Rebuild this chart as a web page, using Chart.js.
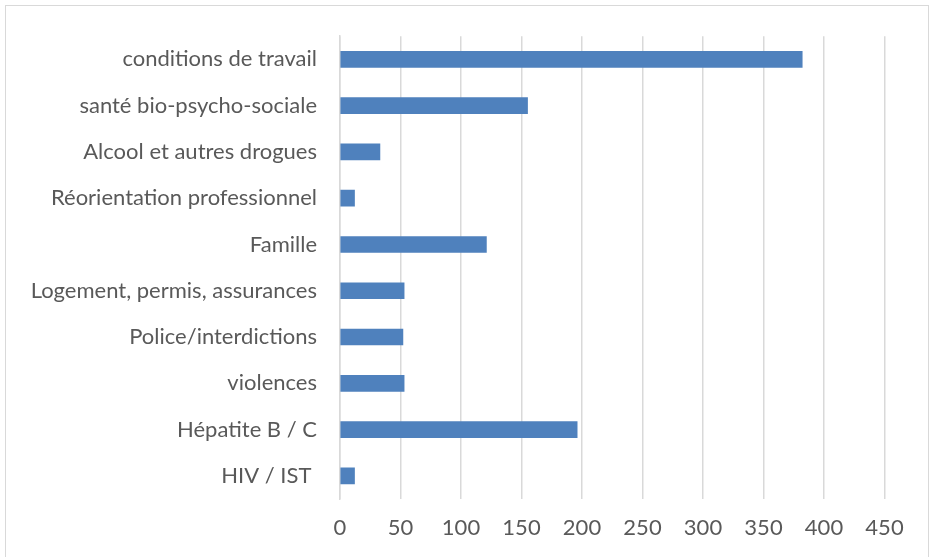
<!DOCTYPE html>
<html>
<head>
<meta charset="utf-8">
<script src="https://cdn.jsdelivr.net/npm/chart.js@4/dist/chart.umd.min.js"></script>
<style>
  html, body { margin: 0; padding: 0; background: #fff; }
  #wrap { position: relative; width: 935px; height: 557px; overflow: hidden; }
  #frame { position: absolute; left: 5px; top: 5px; width: 924px; height: 560px;
           border: 1px solid #d9d9d9; box-sizing: border-box; }
  canvas { position: absolute; left: 0; top: 0; }
</style>
</head>
<body>
<div id="wrap">
  <div id="frame"></div>
  <canvas id="c" width="935" height="557"></canvas>
</div>
<script>
const categories = [
  "conditions de travail",
  "santé bio-psycho-sociale",
  "Alcool et autres drogues",
  "Réorientation professionnel",
  "Famille",
  "Logement, permis, assurances",
  "Police/interdictions",
  "violences",
  "Hépatite B / C",
  "HIV / IST "
];
const values = [382, 155, 33, 12, 121, 53, 52, 53, 196, 12];
const xTicks = [0, 50, 100, 150, 200, 250, 300, 350, 400, 450];

const FONT = "Lato, 'Open Sans', sans-serif";
new Chart(document.getElementById('c'), {
  type: 'bar',
  data: {
    labels: categories,
    datasets: [{
      data: values,
      backgroundColor: '#4f81bd',
      borderWidth: 0,
      barThickness: 16
    }]
  },
  options: {
    indexAxis: 'y',
    responsive: false,
    animation: false,
    layout: { padding: { left: 0, right: 50.5, top: 34, bottom: 0 } },
    plugins: { legend: { display: false }, tooltip: { enabled: false } },
    scales: {
      x: {
        min: 0, max: 450,
        afterBuildTicks: (s) => { s.ticks = xTicks.map(v => ({ value: v })); },
        afterFit: (s) => { s.height = 58; },
        grid: { color: '#d9d9d9', lineWidth: 1.5, drawTicks: false },
        border: { display: false },
        ticks: { color: '#595959', font: { family: FONT, size: 22 }, padding: 16 }
      },
      y: {
        afterFit: (s) => { s.width = 340; },
        grid: { display: false, drawTicks: false },
        border: { display: true, color: '#d9d9d9', width: 1.5 },
        ticks: { color: '#595959', font: { family: FONT, size: 22 }, padding: 23 }
      }
    }
  }
});
</script>
</body>
</html>
